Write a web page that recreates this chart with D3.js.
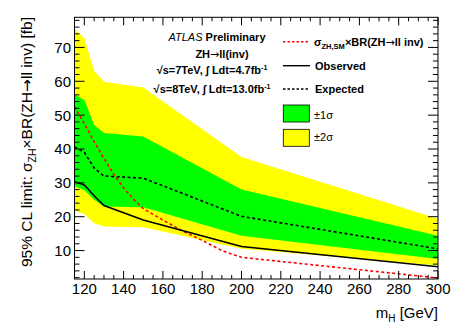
<!DOCTYPE html>
<html>
<head>
<meta charset="utf-8">
<script src="https://cdn.jsdelivr.net/npm/d3@7"></script>
<style>
  body { margin: 0; background: #fff; }
  text { font-family: "Liberation Sans", Arial, Helvetica, sans-serif; }
  .arr { font-family: "DejaVu Sans", sans-serif; }
</style>
</head>
<body>
<div id="chart"></div>
<script>
// mass points (GeV)
var masses = [115, 120, 125, 130, 150, 200, 300];
var plus2 = [75.5, 72.7, 63.1, 59.9, 58.2, 37.6, 19.4];
var plus1 = [56.1, 54.5, 47.1, 44.7, 43.7, 28.0, 14.4];
var expected = [40.6, 39.0, 34.4, 32.0, 31.4, 20.1, 10.5];
var minus1 = [29.0, 27.8, 25.0, 23.0, 22.8, 14.4, 7.5];
var minus2 = [21.8, 20.8, 18.1, 17.1, 16.9, 10.5, 5.6];
var observed = [30.3, 29.4, 26.2, 23.3, 19.0, 11.2, 5.2];

// SM cross section x BR curve
var smMasses = [115, 120, 125, 130, 135, 140, 145, 150, 160, 170, 180, 190, 200, 300];
var smValues = [52.5, 47.5, 42.2, 37.2, 32.5, 28.5, 25.2, 22.4, 19.0, 15.8, 13.0, 10.0, 8.0, 1.9];

var xTicks = [120, 140, 160, 180, 200, 220, 240, 260, 280, 300];
var yTicks = [10, 20, 30, 40, 50, 60, 70];

var W = 463, H = 333;
var pL = 74.5, pR = 438, pT = 17.3, pB = 279;

var svg = d3.select("#chart").append("svg").attr("width", W).attr("height", H);

var x = d3.scaleLinear().domain([115, 300]).range([pL, pR]);
var y = d3.scaleLinear().domain([1.6, 78.9]).range([pB, pT]);

svg.append("clipPath").attr("id", "clip")
  .append("rect").attr("x", pL).attr("y", pT).attr("width", pR - pL).attr("height", pB - pT);

var plot = svg.append("g").attr("clip-path", "url(#clip)");

function band(hi, lo) {
  var pts = masses.map(function(m, i) { return [m, hi[i], lo[i]]; });
  return d3.area().x(function(d) { return x(d[0]); })
    .y0(function(d) { return y(d[2]); })
    .y1(function(d) { return y(d[1]); })(pts);
}
function line(ms, vs) {
  return d3.line().x(function(d) { return x(d[0]); }).y(function(d) { return y(d[1]); })(
    ms.map(function(m, i) { return [m, vs[i]]; }));
}

plot.append("path").attr("d", band(plus2, minus2)).attr("fill", "#ffff00");
plot.append("path").attr("d", band(plus1, minus1)).attr("fill", "#00ff00");

plot.append("path").attr("d", line(smMasses, smValues))
  .attr("fill", "none").attr("stroke", "#ff0000").attr("stroke-width", 1.6).attr("stroke-dasharray", "3,2.5");
plot.append("path").attr("d", line(masses, expected))
  .attr("fill", "none").attr("stroke", "#000").attr("stroke-width", 1.6).attr("stroke-dasharray", "3,2.5");
plot.append("path").attr("d", line(masses, observed))
  .attr("fill", "none").attr("stroke", "#000").attr("stroke-width", 1.6);

// frame
svg.append("rect").attr("x", pL).attr("y", pT).attr("width", pR - pL).attr("height", pB - pT)
  .attr("fill", "none").attr("stroke", "#000").attr("stroke-width", 1);

// ticks on all four sides
var xMinor = d3.range(115, 301, 5);
var yMinor = d3.range(2, 79, 2);
xMinor.forEach(function(v) {
  var len = (v % 20 === 0) ? 8 : 4;
  svg.append("line").attr("x1", x(v)).attr("x2", x(v)).attr("y1", pB).attr("y2", pB - len).attr("stroke", "#000");
  svg.append("line").attr("x1", x(v)).attr("x2", x(v)).attr("y1", pT).attr("y2", pT + len).attr("stroke", "#000");
});
yMinor.forEach(function(v) {
  var len = (v % 10 === 0) ? 10 : 5;
  svg.append("line").attr("y1", y(v)).attr("y2", y(v)).attr("x1", pL).attr("x2", pL + len).attr("stroke", "#000");
  svg.append("line").attr("y1", y(v)).attr("y2", y(v)).attr("x1", pR).attr("x2", pR - len).attr("stroke", "#000");
});

// tick labels
svg.selectAll(".xl").data(xTicks).enter().append("text")
  .attr("x", function(d) { return x(d); }).attr("y", 294)
  .attr("text-anchor", "middle").attr("font-size", 15).text(function(d) { return d; });
svg.selectAll(".yl").data(yTicks).enter().append("text")
  .attr("x", 71).attr("y", function(d) { return y(d); }).attr("dy", "0.36em")
  .attr("text-anchor", "end").attr("font-size", 15).text(function(d) { return d; });

// axis titles
var xt = svg.append("text").attr("x", pR).attr("y", 318).attr("text-anchor", "end").attr("font-size", 15);
xt.append("tspan").text("m");
xt.append("tspan").attr("font-size", 10).attr("dy", 4).text("H");
xt.append("tspan").attr("dy", -4).text(" [GeV]");

var yt = svg.append("text").attr("transform", "translate(32,17) rotate(-90)")
  .attr("text-anchor", "end").attr("font-size", 15.5);
yt.append("tspan").text("95% CL limit: σ");
yt.append("tspan").attr("font-size", 10.5).attr("dy", 4).text("ZH");
yt.append("tspan").attr("dy", -4).text("×BR(ZH");
yt.append("tspan").attr("class", "arr").text("→");
yt.append("tspan").text("ll inv) [fb]");

// ATLAS label
var lab = svg.append("g").attr("font-size", 11).attr("text-anchor", "middle");
var t1 = lab.append("text").attr("x", 217).attr("y", 41);
t1.append("tspan").attr("font-style", "italic").text("ATLAS ");
t1.append("tspan").attr("font-weight", "bold").text("Preliminary");
var t2 = lab.append("text").attr("x", 222).attr("y", 58).attr("font-weight", "bold");
t2.append("tspan").text("ZH");
t2.append("tspan").attr("class", "arr").attr("font-weight", "normal").text("→");
t2.append("tspan").text("ll(inv)");
var t3 = lab.append("text").attr("x", 212).attr("y", 74).attr("font-weight", "bold");
t3.append("tspan").text("√s=7TeV, ∫ Ldt=4.7fb");
t3.append("tspan").attr("font-size", 7).attr("dy", -4).text("-1");
var t4 = lab.append("text").attr("x", 212).attr("y", 93).attr("font-weight", "bold");
t4.append("tspan").text("√s=8TeV, ∫ Ldt=13.0fb");
t4.append("tspan").attr("font-size", 7).attr("dy", -4).text("-1");

// legend
var lg = svg.append("g").attr("font-size", 11);
lg.append("line").attr("x1", 283).attr("x2", 310).attr("y1", 41.7).attr("y2", 41.7)
  .attr("stroke", "#ff0000").attr("stroke-width", 1.4).attr("stroke-dasharray", "2.5,2");
var l1 = lg.append("text").attr("x", 314).attr("y", 45.5).attr("font-weight", "bold");
l1.append("tspan").text("σ");
l1.append("tspan").attr("font-size", 7.5).attr("dy", 3).text("ZH,SM");
l1.append("tspan").attr("dy", -3).text("×BR(ZH");
l1.append("tspan").attr("class", "arr").attr("font-weight", "normal").text("→");
l1.append("tspan").text("ll inv)");

lg.append("line").attr("x1", 283).attr("x2", 310).attr("y1", 65.7).attr("y2", 65.7)
  .attr("stroke", "#000").attr("stroke-width", 1.4);
lg.append("text").attr("x", 315).attr("y", 69.5).attr("font-weight", "bold").text("Observed");
lg.append("line").attr("x1", 283).attr("x2", 310).attr("y1", 89).attr("y2", 89)
  .attr("stroke", "#000").attr("stroke-width", 1.4).attr("stroke-dasharray", "2.5,2");
lg.append("text").attr("x", 315).attr("y", 93).attr("font-weight", "bold").text("Expected");

lg.append("rect").attr("x", 283.3).attr("y", 105).attr("width", 26).attr("height", 17)
  .attr("fill", "#00ff00").attr("stroke", "#000").attr("stroke-width", 0.8);
lg.append("text").attr("x", 314).attr("y", 119).text("±1σ");
lg.append("rect").attr("x", 283.3).attr("y", 129.3).attr("width", 26).attr("height", 17)
  .attr("fill", "#ffff00").attr("stroke", "#000").attr("stroke-width", 0.8);
lg.append("text").attr("x", 314).attr("y", 141).text("±2σ");
</script>
</body>
</html>
